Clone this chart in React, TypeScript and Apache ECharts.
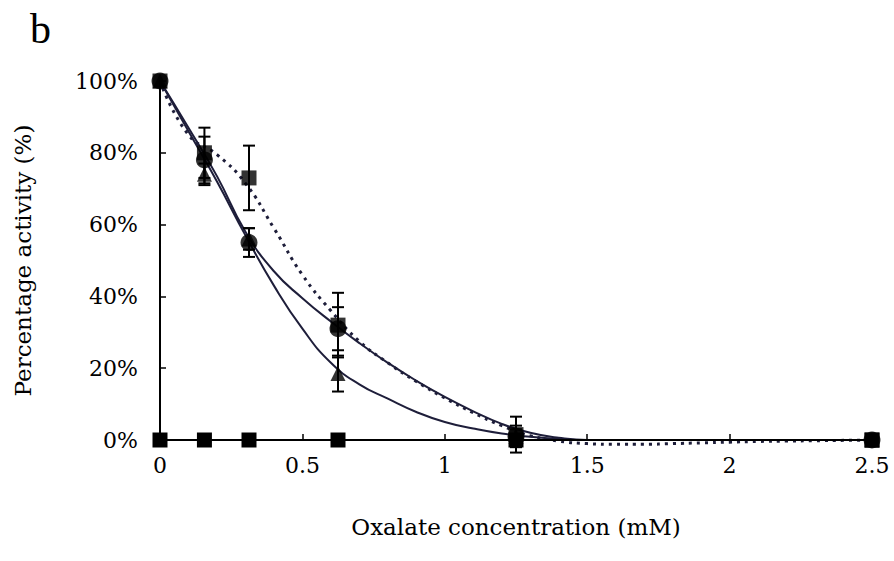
import React, { useEffect, useRef } from "react";
import * as echarts from "echarts";

// Oxalate doses (mM)
const xDoses = [0, 0.156, 0.3125, 0.625, 1.25, 2.5];
// Measured percentage activity
const controlValues = [0, 0, 0, 0, 0, 0];
const squareValues = [100, 80, 73, 32, 1.5, 0];
const squareErrors = [0, 7, 9, 9, 5, 0];
const circleValues = [100, 78, 55, 31, 1, 0];
const circleErrors = [0, 6.5, 4, 6, 3, 0];
const triangleValues = [100, 74, 56, 18.5, 1, 0];
const triangleErrors = [0, 3, 3, 5, 2, 0];

// Trend curves
const trendX = [0, 0.1, 0.2, 0.3, 0.4, 0.5, 0.6, 0.7, 0.8, 0.9, 1.0, 1.1, 1.2, 1.3, 1.4, 1.5, 1.6, 1.7, 1.8, 1.9, 2.0, 2.1, 2.2, 2.3, 2.4, 2.5];
const squareTrend = [100, 85, 79.5, 71.5, 59, 46, 36, 27.5, 21.5, 16.3, 11.7, 7.6, 4, 1.2, -0.3, -1, -1.2, -1.2, -1, -0.8, -0.6, -0.4, -0.3, -0.2, -0.1, 0];
const circleTrend = [100, 87, 73.5, 58, 47, 39.5, 33, 27, 21.5, 16.5, 12, 8, 4.5, 2, 0.6, 0, 0, 0, 0, 0, 0, 0, 0, 0, 0, 0];
const triangleTrend = [100, 86, 72, 57, 43, 31, 21.5, 15.5, 11.5, 7.8, 5, 3.2, 1.8, 0.9, 0.3, 0, 0, 0, 0, 0, 0, 0, 0, 0, 0, 0];

const yTicks = ["0%", "20%", "40%", "60%", "80%", "100%"];

const FONT = "DejaVu Serif";
const INK = "#000000";
const CURVE = "#1e1e3a";

function pairs(xs: number[], ys: number[]) {
  return xs.map((x, i) => [x, ys[i]]);
}
function errData(vals: number[], errs: number[]) {
  return xDoses
    .map((x, i) => [x, vals[i] - errs[i], vals[i] + errs[i], errs[i]])
    .filter((d) => d[3] > 0);
}

const errorRender = (params: any, api: any) => {
  const x = api.value(0);
  const lo = api.value(1);
  const hi = api.value(2);
  const pHi = api.coord([x, hi]);
  const pLo = api.coord([x, lo]);
  const w = 6;
  const style = { stroke: INK, lineWidth: 2 };
  return {
    type: "group",
    children: [
      { type: "line", shape: { x1: pHi[0], y1: pHi[1], x2: pLo[0], y2: pLo[1] }, style },
      { type: "line", shape: { x1: pHi[0] - w, y1: pHi[1], x2: pHi[0] + w, y2: pHi[1] }, style },
      { type: "line", shape: { x1: pLo[0] - w, y1: pLo[1], x2: pLo[0] + w, y2: pLo[1] }, style },
    ],
  };
};

export default function App() {
  const ref = useRef<HTMLDivElement>(null);
  useEffect(() => {
    if (!ref.current) return;
    const chart = echarts.init(ref.current, null, { renderer: "svg" });
    chart.setOption({
      animation: false,
      backgroundColor: "#ffffff",
      grid: { left: 160, right: 22, top: 81, bottom: 121, containLabel: false },
      graphic: [
        {
          type: "text",
          left: 30,
          top: 8,
          style: { text: "b", fontFamily: "Liberation Serif", fontSize: 42, fill: INK },
        },
      ],
      xAxis: {
        type: "value",
        min: 0,
        max: 2.5,
        interval: 0.5,
        name: "Oxalate concentration (mM)",
        nameLocation: "middle",
        nameGap: 75,
        nameTextStyle: { fontFamily: FONT, fontSize: 23, color: INK },
        axisLine: { show: true, lineStyle: { color: INK, width: 2 } },
        axisTick: { show: true, inside: true, length: 6, lineStyle: { color: INK, width: 1.5 } },
        splitLine: { show: false },
        axisLabel: { color: INK, fontFamily: FONT, fontSize: 22, margin: 14 },
      },
      yAxis: {
        type: "value",
        min: 0,
        max: 100,
        interval: 20,
        name: "Percentage activity (%)",
        nameLocation: "middle",
        nameGap: 126,
        nameTextStyle: { fontFamily: FONT, fontSize: 23, color: INK },
        axisLine: { show: true, lineStyle: { color: INK, width: 2 } },
        axisTick: { show: true, inside: true, length: 6, lineStyle: { color: INK, width: 1.5 } },
        splitLine: { show: false },
        axisLabel: {
          color: INK,
          fontFamily: FONT,
          fontSize: 22,
          margin: 22,
          formatter: (v: number) => yTicks[Math.round(v / 20)],
        },
      },
      series: [
        {
          type: "line",
          data: pairs(trendX, squareTrend),
          smooth: true,
          clip: false,
          symbol: "none",
          lineStyle: { color: CURVE, width: 3, type: [3, 5] },
          z: 2,
        },
        {
          type: "line",
          data: pairs(trendX, circleTrend),
          smooth: true,
          clip: false,
          symbol: "none",
          lineStyle: { color: CURVE, width: 2 },
          z: 2,
        },
        {
          type: "line",
          data: pairs(trendX, triangleTrend),
          smooth: true,
          clip: false,
          symbol: "none",
          lineStyle: { color: CURVE, width: 2 },
          z: 2,
        },
        {
          type: "line",
          data: pairs(xDoses, controlValues),
          symbol: "rect",
          symbolSize: 15,
          clip: false,
          itemStyle: { color: INK },
          lineStyle: { color: INK, width: 2 },
          z: 4,
        },
        {
          type: "custom",
          renderItem: errorRender,
          data: errData(squareValues, squareErrors),
          encode: { x: 0, y: [1, 2] },
          z: 5,
        },
        {
          type: "custom",
          renderItem: errorRender,
          data: errData(circleValues, circleErrors),
          encode: { x: 0, y: [1, 2] },
          z: 5,
        },
        {
          type: "custom",
          renderItem: errorRender,
          data: errData(triangleValues, triangleErrors),
          encode: { x: 0, y: [1, 2] },
          z: 5,
        },
        {
          type: "scatter",
          data: pairs(xDoses, squareValues),
          symbol: "rect",
          symbolSize: 15,
          clip: false,
          itemStyle: { color: INK },
          z: 6,
        },
        {
          type: "scatter",
          data: pairs(xDoses, circleValues),
          symbol: "circle",
          symbolSize: 17,
          clip: false,
          itemStyle: { color: INK },
          z: 6,
        },
        {
          type: "scatter",
          data: pairs(xDoses, triangleValues),
          symbol: "triangle",
          symbolSize: 15,
          clip: false,
          itemStyle: { color: INK },
          z: 6,
        },
      ],
    });
    return () => chart.dispose();
  }, []);
  return (
    <div
      ref={ref}
      style={{ position: "fixed", left: 0, top: 0, width: 894, height: 561, background: "#fff" }}
    />
  );
}
